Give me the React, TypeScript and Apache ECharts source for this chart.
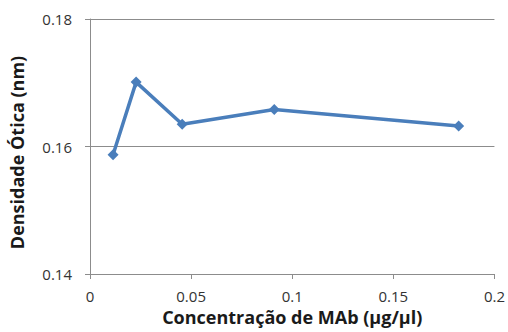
import React, { useEffect, useRef } from "react";
import * as echarts from "echarts";

const xValues = [0.0114, 0.0228, 0.0456, 0.0911, 0.1823];
const yValues = [0.1587, 0.1701, 0.1635, 0.1658, 0.1632];
const xTitle = "Concentração de MAb (µg/µl)";
const yTitle = "Densidade Ótica (nm)";

export default function App() {
  const ref = useRef<HTMLDivElement>(null);
  useEffect(() => {
    const chart = echarts.init(ref.current!, null, { renderer: "svg" });
    const font = "'Open Sans', 'Noto Sans', sans-serif";
    chart.setOption({
      animation: false,
      backgroundColor: "#ffffff",
      grid: { left: 90, right: 13, top: 19, bottom: 58 },
      xAxis: {
        type: "value",
        min: 0,
        max: 0.2,
        interval: 0.05,
        name: xTitle,
        nameLocation: "middle",
        nameGap: 28,
        nameTextStyle: { fontFamily: font, fontWeight: "bold", fontSize: 18, color: "#1a1a1a" },
        axisLine: { show: true, lineStyle: { color: "#8c8c8c", width: 1 } },
        axisTick: { show: true, length: 5, inside: false, lineStyle: { color: "#8c8c8c" } },
        splitLine: { show: false },
        axisLabel: {
          fontFamily: font,
          fontSize: 15,
          color: "#333",
          margin: 14,
          formatter: (v: number) => String(Number(v.toFixed(2))),
        },
      },
      yAxis: {
        type: "value",
        min: 0.14,
        max: 0.18,
        interval: 0.02,
        name: yTitle,
        nameLocation: "middle",
        nameGap: 64,
        nameTextStyle: {
          fontFamily: font,
          fontWeight: "bold",
          fontSize: 18,
          color: "#1a1a1a",
          padding: [0, 12, 0, 0],
        },
        axisLine: { show: true, lineStyle: { color: "#8c8c8c", width: 1 } },
        axisTick: { show: true, length: 5, lineStyle: { color: "#8c8c8c" } },
        splitLine: { show: true, lineStyle: { color: "#8c8c8c", width: 1 } },
        axisLabel: {
          fontFamily: font,
          fontSize: 15,
          color: "#333",
          margin: 18,
          formatter: (v: number) => v.toFixed(2),
        },
      },
      series: [
        {
          type: "line",
          data: xValues.map((x, i) => [x, yValues[i]]),
          symbol: "diamond",
          symbolSize: 11,
          lineStyle: { color: "#4a7ebb", width: 3.5 },
          itemStyle: { color: "#4a7ebb" },
        },
      ],
    });
    return () => chart.dispose();
  }, []);
  return <div ref={ref} style={{ width: 508, height: 332, position: "absolute", left: 0, top: 0 }} />;
}
